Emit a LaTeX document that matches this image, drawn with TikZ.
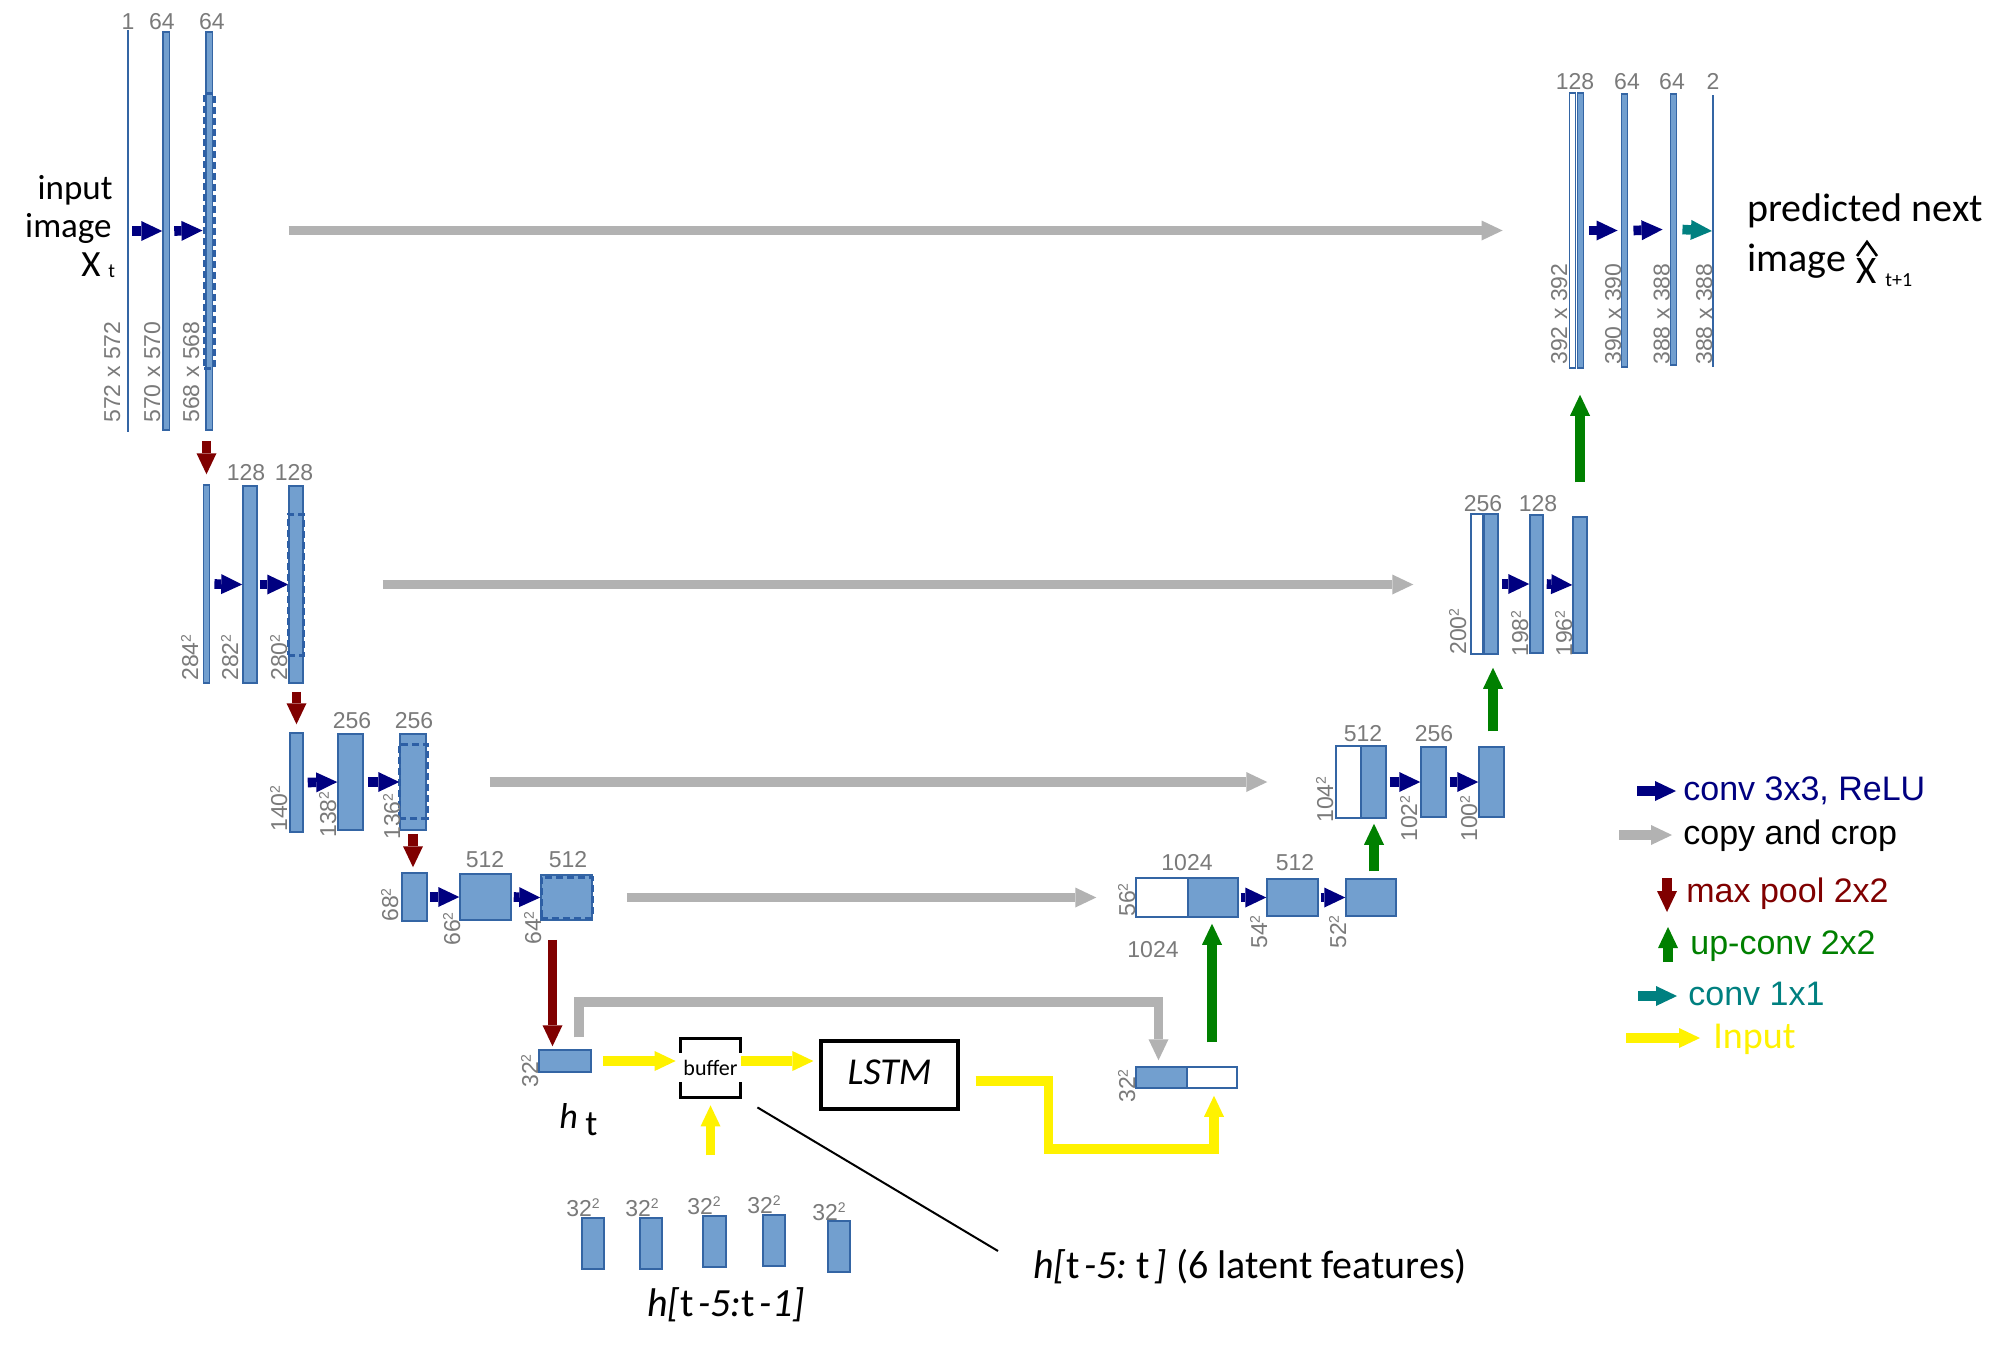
\documentclass[tikz,border=0pt]{standalone}
\usepackage{fontspec}
\setmainfont{Carlito}
\newfontfamily\numfont{Liberation Sans}
\usetikzlibrary{fit,calc,arrows.meta}
\definecolor{barfill}{RGB}{114,159,207}
\definecolor{bord}{RGB}{52,101,164}
\definecolor{dashc}{RGB}{45,95,165}
\definecolor{navyc}{RGB}{0,0,128}
\definecolor{redc}{RGB}{128,0,0}
\definecolor{greenc}{RGB}{0,128,0}
\definecolor{tealc}{RGB}{0,128,128}
\definecolor{yelc}{RGB}{255,242,0}
\definecolor{copyc}{RGB}{178,178,178}
\definecolor{numgray}{RGB}{122,122,122}
\tikzset{
  fmap/.style={draw=bord, fill=barfill, line width=0.75pt, inner sep=0pt},
  wmap/.style={fmap, fill=white},
  thinmap/.style={fill=bord, draw=none, inner sep=0pt},
  dashbox/.style={draw=dashc, line width=1.5pt, dash pattern=on 3.5pt off 2pt, inner sep=0pt},
  fatarrow/.style={line width=4.8pt, line cap=butt, -{Triangle[length=10.5pt,width=10pt,line width=0pt]}},
  convarrow/.style={fatarrow, draw=navyc},
  poolarrow/.style={fatarrow, draw=redc},
  uparrow/.style={fatarrow, draw=greenc},
  tealarrow/.style={fatarrow, draw=tealc},
  copyarrow/.style={fatarrow, draw=copyc},
  yelarrow/.style={fatarrow, draw=yelc},
  num/.style={font=\numfont\fontsize{11.5}{13}\selectfont, text=numgray, inner sep=0pt},
  legendtext/.style={font=\numfont\fontsize{17}{19}\selectfont, anchor=base west, inner sep=0pt},
  bigtext/.style={anchor=base west, inner sep=0pt, font=\fontsize{17.5}{20}\selectfont}
}
\newcommand\sqr{\raisebox{3.6pt}{\fontsize{7}{7}\selectfont 2}}
\newcommand\vlab[4]{\node[num, rotate=90, anchor=base west] (#1) at (#2,#3) {#4};}
\newcommand\hlab[4]{\node[num, anchor=base] (#1) at (#2,#3) {#4};}
\begin{document}
\begin{tikzpicture}[x=0.5pt, y=-0.5pt]
\useasboundingbox (0,0) rectangle (1992,1365);
\fill[white] (0,0) rectangle (1992,1365);

% ---------- encoder ----------
\node[thinmap, fit={(127,30)(129,432)}] (L1) {};
\node[fmap, fit={(163,32)(169.5,430)}] (B1a) {};
\node[fmap, fit={(206,32)(212.5,430)}] (B1b) {};
\node[dashbox, fit={(204,93)(214,368)}] (C1) {};

\node[fmap, fit={(203.3,485)(209.7,683)}] (B2a) {};
\node[fmap, fit={(243,486)(257,683)}] (B2b) {};
\node[fmap, fit={(289,486)(303,683)}] (B2c) {};
\node[dashbox, fit={(288,514)(303,655)}] (C2) {};

\node[fmap, fit={(290,733)(303,832)}] (B3a) {};
\node[fmap, fit={(338,734)(363,830)}] (B3b) {};
\node[fmap, fit={(400,734)(426,830)}] (B3c) {};
\node[dashbox, fit={(399,744)(427,818)}] (C3) {};

\node[fmap, fit={(402,873)(427,921)}] (B4a) {};
\node[fmap, fit={(460,874)(511,920)}] (B4b) {};
\node[fmap, fit={(541,875)(592,920)}] (B4c) {};
\node[dashbox, fit={(541,877)(592,918)}] (C4) {};

\node[fmap, fit={(539,1050)(591,1072)}] (B5) {};

% ---------- decoder ----------
\node[fmap, fit={(1136,1067)(1187,1088)}] (D5b) {};
\node[wmap, fit={(1187,1067)(1237,1088)}] (D5w) {};

\node[wmap, fit={(1136,878)(1188,917)}] (D4w) {};
\node[fmap, fit={(1188,878)(1238,917)}] (D4b) {};
\node[fmap, fit={(1267,879)(1318,916)}] (D4c) {};
\node[fmap, fit={(1346,879)(1396,916)}] (D4d) {};

\node[wmap, fit={(1336,746)(1361,818)}] (D3w) {};
\node[fmap, fit={(1361,746)(1386,818)}] (D3b) {};
\node[fmap, fit={(1421,747)(1446,817)}] (D3c) {};
\node[fmap, fit={(1479,747)(1504,817)}] (D3d) {};

\node[wmap, fit={(1471,514)(1483,654)}] (D2w) {};
\node[fmap, fit={(1484,514)(1498,654)}] (D2b) {};
\node[fmap, fit={(1530,515)(1543,653)}] (D2c) {};
\node[fmap, fit={(1573,517)(1587,653)}] (D2d) {};

\node[wmap, fit={(1569.3,93)(1575.3,368)}] (D1w) {};
\node[fmap, fit={(1577.3,93)(1583.7,368)}] (D1b) {};
\node[fmap, fit={(1621.3,94)(1627.7,367)}] (D1c) {};
\node[fmap, fit={(1670.3,94)(1676.7,365)}] (D1d) {};
\node[thinmap, fit={(1712.3,95)(1714.3,367)}] (D1e) {};

% ---------- history features ----------
\node[fmap, fit={(582,1218)(604,1269)}] (S1) {};
\node[fmap, fit={(640,1218)(662,1269)}] (S2) {};
\node[fmap, fit={(703,1216)(726,1267)}] (S3) {};
\node[fmap, fit={(763,1215)(785,1266)}] (S4) {};
\node[fmap, fit={(828,1221)(850,1272)}] (S5) {};

% ---------- buffer and LSTM ----------
\node[minimum width=29.5pt, minimum height=29pt, inner sep=0pt, font=\fontsize{11}{12}\selectfont] (buf) at (710.5,1068) {buffer};
\draw[line width=1.5pt] ($(buf.north west)+(0,14)$) -- (buf.north west) -- (buf.north east) -- ++(0,14);
\draw[line width=1.5pt] ($(buf.south west)+(0,-15)$) -- (buf.south west) -- (buf.south east) -- ++(0,-15);
\node[draw, line width=1.6pt, minimum width=68.5pt, minimum height=34pt, inner sep=0pt, font=\itshape\fontsize{19}{20}\selectfont] (lstm) at (889.5,1075) {\raisebox{2.5pt}{LSTM}};

% ---------- conv arrows ----------
\draw[convarrow] ($(L1.east)+(3,0)$) -- (B1a.west);
\draw[convarrow] ($(B1a.east)+(4,0)$) -- (C1.west);
\draw[convarrow] ($(B2a.east)+(4,0)$) -- (B2b.west);
\draw[convarrow] ($(B2b.east)+(2,0)$) -- (B2c.west);
\draw[convarrow] ($(B3a.east)+(4,0)$) -- (B3b.west);
\draw[convarrow] ($(B3b.east)+(4,0)$) -- (B3c.west);
\draw[convarrow] ($(B4a.east)+(2,0)$) -- (B4b.west);
\draw[convarrow] ($(B4b.east)+(2,0)$) -- (B4c.west);
\draw[convarrow] ($(D4b.east)+(2,0)$) -- (D4c.west);
\draw[convarrow] ($(D4c.east)+(2,0)$) -- (D4d.west);
\draw[convarrow] ($(D3b.east)+(3,0)$) -- (D3c.west);
\draw[convarrow] ($(D3c.east)+(3,0)$) -- (D3d.west);
\draw[convarrow] ($(D2b.east)+(3,0)$) -- (D2c.west);
\draw[convarrow] ($(D2c.east)+(3,0)$) -- (D2d.west);
\draw[convarrow] ($(D1b.east)+(4.3,0)$) -- ($(D1c.west)+(-3,0)$);
\draw[convarrow] ($(D1c.east)+(5,0)$) -- ($(D1d.west)+(-7,0)$);
\draw[tealarrow] ($(D1d.east)+(5,0)$) -- (D1e.west);

% ---------- max pool ----------
\draw[poolarrow] ($(B1b.south -| B2a.north)+(0,10)$) -- ($(B2a.north)+(0,-10)$);
\draw[poolarrow] ($(B2c.south -| B3a.north)+(0,8)$) -- ($(B3a.north)+(0,-8)$);
\draw[poolarrow] ($(B3c.south)+(0,3)$) -- ($(B3c.south |- B4a.north)+(0,-5)$);
\draw[poolarrow] ($(B4c.south)+(-14,19)$) -- ($(B4c.south |- B5.north)+(-14,-3)$);

% ---------- up-conv ----------
\draw[uparrow] ($(D5w.north)+(0,-24)$) -- ($(D5w.north |- D4b.south)+(0,6)$);
\draw[uparrow] ($(D4d.north)+(3,-7)$) -- ($(D4d.north |- D3b.south)+(3,5)$);
\draw[uparrow] ($(D3d.north)+(1.5,-15)$) -- ($(D3d.north |- D2b.south)+(1.5,13)$);
\draw[uparrow] ($(D2d.north)+(0,-34)$) -- ($(D2d.north |- D1b.south)+(0,26)$);

% ---------- copy and crop ----------
\draw[copyarrow] ($(C1.east)+(73,0)$) -- ($(C1.east -| D1w.west)+(-66,0)$);
\draw[copyarrow] ($(B2c.east)+(79,0)$) -- ($(B2c.east -| D2w.west)+(-57,0)$);
\draw[copyarrow] ($(B3c.east)+(63,0)$) -- ($(B3c.east -| D3w.west)+(-68,0)$);
\draw[copyarrow] ($(B4c.east)+(34,0)$) -- ($(B4c.east -| D4w.west)+(-39,0)$);
\draw[copyarrow, line join=miter] ($(B5.north)+(14,-12)$) |- ($(D5b.north)+(-3,-64)$) -- ($(D5b.north)+(-3,-6)$);

% ---------- input (yellow) ----------
\draw[yelarrow] ($(B5.east)+(11,0)$) -- ($(B5.east -| buf.west)+(-5,0)$);
\draw[yelarrow] ($(B5.east -| buf.east)+(1,0)$) -- ($(B5.east -| lstm.west)+(-6,0)$);
\draw[yelarrow] ($(buf.south)+(0,58)$) -- ($(buf.south)+(0,8)$);
\draw[yelarrow, line join=miter] ($(lstm.east)+(16,6)$) -- ++(73,0) -- ++(0,68) -| ($(D5w.south)+(2,7)$);

% ---------- pointer line ----------
\coordinate (lineend) at (998,1251);
\draw[line width=1pt] ($(buf.south east)+(17,10)$) -- (lineend);

% ---------- channel labels ----------
\hlab{t1}{128}{29}{1}
\hlab{t2}{162}{29}{64}
\hlab{t3}{212}{29}{64}
\hlab{t4}{246}{480}{128}
\hlab{t5}{294}{480}{128}
\hlab{t6}{352}{728}{256}
\hlab{t7}{414}{728}{256}
\hlab{t8}{485}{867}{512}
\hlab{t9}{568}{867}{512}
\hlab{t10}{1187}{870}{1024}
\hlab{t11}{1295}{870}{512}
\hlab{t12}{1153}{957}{1024}
\hlab{t13}{1363}{741}{512}
\hlab{t14}{1434}{741}{256}
\hlab{t15}{1483}{511}{256}
\hlab{t16}{1538}{511}{128}
\hlab{t17}{1575}{89}{128}
\hlab{t18}{1627}{89}{64}
\hlab{t19}{1672}{89}{64}
\hlab{t20}{1713}{89}{2}
\hlab{t21}{583}{1216}{32\sqr}
\hlab{t22}{642}{1216}{32\sqr}
\hlab{t23}{704}{1214}{32\sqr}
\hlab{t24}{764}{1213}{32\sqr}
\hlab{t25}{829}{1220}{32\sqr}

% ---------- size labels ----------
\vlab{v1}{120}{423}{572 x 572}
\vlab{v2}{160}{423}{570 x 570}
\vlab{v3}{199}{423}{568 x 568}
\vlab{v4}{198}{681}{284\sqr}
\vlab{v5}{238}{681}{282\sqr}
\vlab{v6}{287}{681}{280\sqr}
\vlab{v7}{287}{832}{140\sqr}
\vlab{v8}{336}{838}{138\sqr}
\vlab{v9}{400}{840}{136\sqr}
\vlab{v10}{398}{922}{68\sqr}
\vlab{v11}{460}{946}{66\sqr}
\vlab{v12}{541}{945}{64\sqr}
\vlab{v13}{538}{1088}{32\sqr}
\vlab{v14}{1135}{917}{56\sqr}
\vlab{v15}{1267}{949}{54\sqr}
\vlab{v16}{1346}{949}{52\sqr}
\vlab{v17}{1135}{1103}{32\sqr}
\vlab{v18}{1333}{823}{104\sqr}
\vlab{v19}{1417}{842}{102\sqr}
\vlab{v20}{1477}{842}{100\sqr}
\vlab{v21}{1466}{655}{200\sqr}
\vlab{v22}{1528}{657}{198\sqr}
\vlab{v23}{1572}{657}{196\sqr}
\vlab{v24}{1567}{365}{392 x 392}
\vlab{v25}{1621}{365}{390 x 390}
\vlab{v26}{1669.5}{365}{388 x 388}
\vlab{v27}{1712}{365}{388 x 388}

% ---------- black texts ----------
\node[bigtext, anchor=base east] (in1) at (113,199) {input};
\node[bigtext, anchor=base east] (in2) at (112,237) {image};
\node[bigtext, font=\fontsize{18.5}{20}\selectfont] (inX) at (81,276) {X};
\node[bigtext, font=\fontsize{10}{12}\selectfont] (inT) at (108,277) {t};

\node[bigtext, font=\fontsize{20}{22}\selectfont] (out1) at (1747,221) {predicted next};
\node[bigtext, font=\fontsize{20}{22}\selectfont] (out2) at (1747,271) {image};
\node[bigtext, font=\fontsize{19.5}{22}\selectfont] (outX) at (1856,283) {X};
\draw[line width=1.3pt] (1857,256) -- (1867,242) -- (1877,256);
\node[bigtext, font=\fontsize{10}{12}\selectfont] (outT) at (1885,286) {t+1};

\node[bigtext, font=\itshape\fontsize{18}{20}\selectfont] (hh) at (559,1128) {h};
\node[bigtext, font=\fontsize{18}{20}\selectfont] (ht) at (585,1135) {t};
\node[bigtext, anchor=base, font=\fontsize{20}{22}\selectfont] (hlist) at (726,1316) {\textit{h[}t\hspace{0.12em}\textit{-5:}t\hspace{0.12em}\textit{-1]}};
\node[bigtext, font=\fontsize{20}{22}\selectfont] (lat) at (1033,1278) {\textit{h[}t\hspace{0.12em}\textit{-5:}~t\hspace{0.12em}\textit{]} (6 latent features)};

% ---------- legend ----------
\node[legendtext, text=navyc] (lg1) at (1683,800) {conv 3x3, ReLU};
\draw[convarrow] (1637,791) -- (1676,791);
\node[legendtext, text=black] (lg2) at (1683,844) {copy and crop};
\draw[copyarrow] (1619,835) -- (1672,835);
\node[legendtext, text=redc] (lg3) at (1686,902) {max pool 2x2};
\draw[poolarrow] (1667,878) -- (1667,912);
\node[legendtext, text=greenc] (lg4) at (1690,954) {up-conv 2x2};
\draw[uparrow] (1668,962) -- (1668,927);
\node[legendtext, text=tealc] (lg5) at (1688,1005) {conv 1x1};
\draw[tealarrow] (1638,996) -- (1677,996);
\node[bigtext, font=\fontsize{19}{21}\selectfont, text=yelc] (lg6) at (1713,1048) {Input};
\draw[yelarrow] (1626,1038) -- (1700,1038);
\end{tikzpicture}
\end{document}
